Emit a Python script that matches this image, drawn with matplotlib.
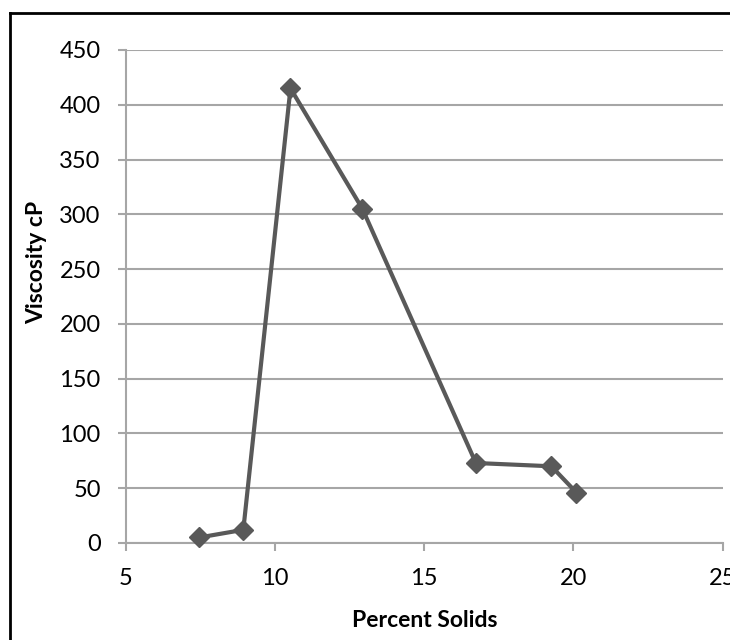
import matplotlib
matplotlib.use("Agg")
import matplotlib.pyplot as plt
from matplotlib.lines import Line2D

# Viscosity measured against solids content
percent_solids = [7.46, 8.94, 10.52, 12.93, 16.73, 19.26, 20.10]
viscosity_cp = [5, 12, 415, 305, 73, 70, 46]

x_ticks = [5, 10, 15, 20, 25]
y_ticks = [0, 50, 100, 150, 200, 250, 300, 350, 400, 450]

FONT = "Lato"
GRID_COLOR = "#a6a6a6"
LINE_COLOR = "#595959"

fig = plt.figure(figsize=(7.3, 6.4), dpi=100)
ax = fig.add_axes([0.1722, 0.1516, 0.8178, 0.7703])

ax.plot(percent_solids, viscosity_cp, color=LINE_COLOR, linewidth=3.0,
        marker="D", markersize=10, markerfacecolor=LINE_COLOR,
        markeredgecolor=LINE_COLOR, zorder=3, clip_on=False)

ax.set_xlim(5, 25)
ax.set_ylim(0, 450)
ax.set_xticks(x_ticks)
ax.set_yticks(y_ticks)
ax.yaxis.grid(True, color=GRID_COLOR, linewidth=1.5)
ax.set_axisbelow(True)

for side in ("top", "right"):
    ax.spines[side].set_visible(False)
for side in ("left", "bottom"):
    ax.spines[side].set_color(GRID_COLOR)
    ax.spines[side].set_linewidth(1.5)

ax.tick_params(axis="both", direction="out", length=6, width=1.5,
               color=GRID_COLOR, labelsize=17, labelcolor="black")
ax.tick_params(axis="x", pad=12)
ax.tick_params(axis="y", pad=12)
for lbl in ax.get_xticklabels() + ax.get_yticklabels():
    lbl.set_fontfamily(FONT)

ax.set_xlabel("Percent Solids", fontfamily=FONT, fontweight="bold", fontsize=16.5)
ax.set_ylabel("Viscosity cP", fontfamily=FONT, fontweight="bold", fontsize=16.5)
ax.xaxis.set_label_coords(0.501, -0.136)
ax.yaxis.set_label_coords(-0.132, 0.57)

# Outer frame around the chart (left and top edges visible)
fx0 = 10 / 730
fy1 = 1 - 13 / 640
fig.add_artist(Line2D([fx0, fx0], [0, fy1], transform=fig.transFigure,
                      color="black", linewidth=2.0))
fig.add_artist(Line2D([fx0, 1], [fy1, fy1], transform=fig.transFigure,
                      color="black", linewidth=2.0))

fig.savefig("out.png", dpi=100)
